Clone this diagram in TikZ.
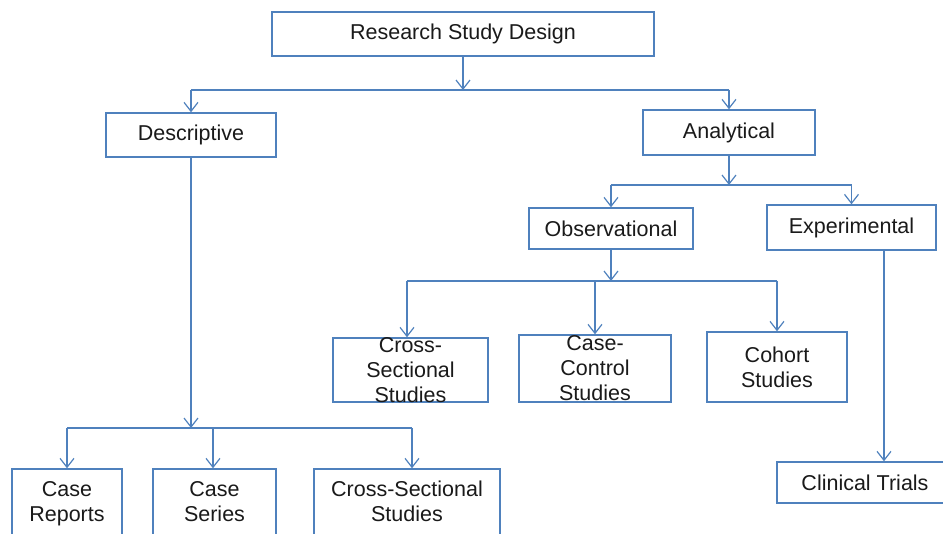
\documentclass[tikz,border=0pt]{standalone}
\usepackage{fontspec}
\setmainfont{Liberation Sans}
\usetikzlibrary{arrows.meta}
\definecolor{lineblue}{HTML}{4F81BD}
\definecolor{txtcol}{HTML}{1A1A1A}
\begin{document}
\begin{tikzpicture}[x=1pt,y=-1pt,
  box/.style={draw=lineblue, line width=1.4pt, fill=white, inner sep=0pt, rectangle},
  lbl/.style={align=center, font=\fontsize{21.5}{25}\selectfont, inner sep=0pt, text=txtcol},
  ln/.style={draw=lineblue, line width=1.4pt},
  arr/.style={ln, -{Straight Barb[length=9pt,width=14pt,line width=1.2pt]}}]
\useasboundingbox (0,0) rectangle (943,534);
\clip (0,0) rectangle (943,534);

% boxes
\node[box, minimum width=382pt, minimum height=44pt] (top) at (463,34) {};
\node[box, minimum width=170pt, minimum height=44pt] (desc) at (191,135) {};
\node[box, minimum width=172pt, minimum height=45pt] (anal) at (729,132.5) {};
\node[box, minimum width=164pt, minimum height=41pt] (obs) at (611,228.5) {};
\node[box, minimum width=169pt, minimum height=45pt] (exp) at (851.5,227.5) {};
\node[box, minimum width=155pt, minimum height=64pt] (cross) at (410.5,370) {};
\node[box, minimum width=152pt, minimum height=67pt] (cc) at (595,368.5) {};
\node[box, minimum width=140pt, minimum height=70pt] (coh) at (777,367) {};
\node[box, minimum width=176pt, minimum height=41pt] (clin) at (865,482.5) {};
\node[box, minimum width=110pt, minimum height=67pt] (crep) at (67,502.5) {};
\node[box, minimum width=123pt, minimum height=67pt] (cser) at (214.5,502.5) {};
\node[box, minimum width=186pt, minimum height=67pt] (cxs) at (407,502.5) {};

% texts
\node[lbl] (topT) at (top) {Research Study Design};
\node[lbl] (descT) at (desc) {Descriptive};
\node[lbl] (analT) at (anal) {Analytical};
\node[lbl] (obsT) at (obs) {Observational};
\node[lbl] (expT) at (exp) {Experimental};
\node[lbl] (crossT) at (cross) {Cross-\\Sectional\\Studies};
\node[lbl] (ccT) at (cc) {Case-\\Control\\Studies};
\node[lbl] (cohT) at (coh) {Cohort\\Studies};
\node[lbl] (clinT) at (clin) {Clinical Trials};
\node[lbl] (crepT) at ([yshift=-1pt]crep) {Case\\Reports};
\node[lbl] (cserT) at ([yshift=1pt]cser) {Case\\Series};
\node[lbl] (cxsT) at ([yshift=1pt]cxs) {Cross-Sectional\\Studies};

% bus coordinates
\coordinate (b1) at (0,90);
\coordinate (b2) at (0,185);
\coordinate (b3L) at (407,281);
\coordinate (b3M) at (595,281);
\coordinate (b3R) at (777,281);
\coordinate (b4L) at (67,428);
\coordinate (b4M) at (213,428);
\coordinate (b4R) at (412,428);

% level 1
\draw[arr] (top.south) -- (top.south |- b1);
\draw[ln] (desc.north |- b1) -- (anal.north |- b1);
\draw[arr] (desc.north |- b1) -- (desc.north);
\draw[arr] (anal.north |- b1) -- (anal.north);

% level 2
\draw[arr] (anal.south) -- (anal.south |- b2);
\draw[ln] (obs.north |- b2) -- (exp.north |- b2);
\draw[arr] (obs.north |- b2) -- (obs.north);
\draw[arr] (exp.north |- b2) -- (exp.north);

% observational branch
\draw[arr] (obs.south) -- (obs.south |- b3L);
\draw[ln] (b3L) -- (b3R);
\draw[arr] (b3L) -- (b3L |- cross.north);
\draw[arr] (b3M) -- (b3M |- cc.north);
\draw[arr] (b3R) -- (b3R |- coh.north);

% experimental branch
\draw[arr] ([xshift=32.5pt]exp.south) -- ([xshift=32.5pt]exp.south |- clin.north);

% descriptive branch
\draw[arr] (desc.south) -- (desc.south |- b4L);
\draw[ln] (b4L) -- (b4R);
\draw[arr] (b4L) -- (b4L |- crep.north);
\draw[arr] (b4M) -- (b4M |- cser.north);
\draw[arr] (b4R) -- (b4R |- cxs.north);
\end{tikzpicture}
\end{document}
